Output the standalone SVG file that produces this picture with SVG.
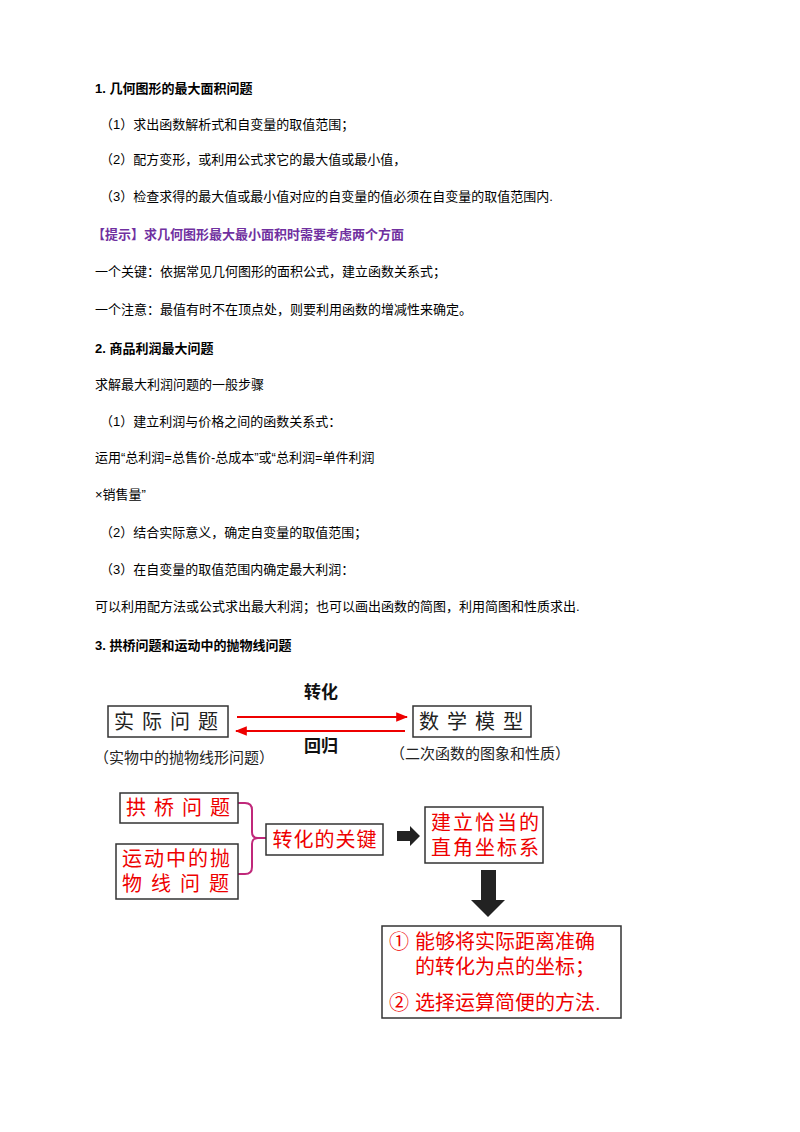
<svg xmlns="http://www.w3.org/2000/svg" width="800" height="1132" viewBox="0 0 800 1132">
<style>
text{font-family:"Liberation Sans","Noto Sans CJK SC",sans-serif;}
.t{font-size:13px;fill:#000}
.h{font-size:13px;font-weight:bold;fill:#000}
.p{font-size:13px;font-weight:bold;fill:#7030a0}
.bx{fill:#fff;stroke:#333;stroke-width:1.5}
.k{font-size:20px;fill:#222}
.r{font-size:20px;fill:#e00}
.c{font-size:15px;fill:#222}
</style>
<defs>
<marker id="ar" viewBox="0 0 10 10" refX="9" refY="5" markerWidth="6" markerHeight="6" orient="auto"><path d="M0,1 L10,5 L0,9z" fill="#e00"/></marker>
</defs>
<rect width="800" height="1132" fill="#fff"/>
<text class="h" x="95" y="93">1.  几何图形的最大面积问题</text>
<text class="t" x="100" y="129">（1）求出函数解析式和自变量的取值范围；</text>
<text class="t" x="100" y="164">（2）配方变形，或利用公式求它的最大值或最小值，</text>
<text class="t" x="100" y="201">（3）检查求得的最大值或最小值对应的自变量的值必须在自变量的取值范围内.</text>
<text class="p" x="92" y="239">【提示】求几何图形最大最小面积时需要考虑两个方面</text>
<text class="t" x="95" y="276">一个关键：依据常见几何图形的面积公式，建立函数关系式；</text>
<text class="t" x="95" y="314">一个注意：最值有时不在顶点处，则要利用函数的增减性来确定。</text>
<text class="h" x="95" y="353">2.  商品利润最大问题</text>
<text class="t" x="95" y="389">求解最大利润问题的一般步骤</text>
<text class="t" x="100" y="426">（1）建立利润与价格之间的函数关系式：</text>
<text class="t" x="95" y="462">运用“总利润=总售价-总成本”或“总利润=单件利润</text>
<text class="t" x="95" y="499">×销售量”</text>
<text class="t" x="100" y="537">（2）结合实际意义，确定自变量的取值范围；</text>
<text class="t" x="100" y="574">（3）在自变量的取值范围内确定最大利润：</text>
<text class="t" x="95" y="611">可以利用配方法或公式求出最大利润；也可以画出函数的简图，利用简图和性质求出.</text>
<text class="h" x="95" y="650">3.  拱桥问题和运动中的抛物线问题</text>

<g id="connectors">
<line x1="237" y1="717" x2="407" y2="717" stroke="#e00" stroke-width="2" marker-end="url(#ar)"/>
<line x1="405" y1="731" x2="236" y2="731" stroke="#e00" stroke-width="2" marker-end="url(#ar)"/>
<path d="M238,803 H245 Q252,803 252,810 V832 Q252,838 258,838 H266 M258,838 Q252,838 252,844 V867 Q252,874 245,874 H238" fill="none" stroke="#c0287a" stroke-width="2"/>
<path d="M397,831 H410 V826 L420,836 L410,846 V841 H397z" fill="#222"/>
<path d="M481,870 H496 V900 H505 L488,917 L471,900 H481z" fill="#222"/>
</g>
<text x="321" y="698" font-size="17" font-weight="bold" text-anchor="middle" fill="#111">转化</text>
<text x="321" y="752" font-size="17" font-weight="bold" text-anchor="middle" fill="#111">回归</text>

<g id="n1"><rect class="bx" x="108" y="706" width="120" height="31"/><text class="k" x="170" y="729" text-anchor="middle" letter-spacing="8">实际问题</text></g>
<g id="n2"><rect class="bx" x="413" y="706" width="118" height="31"/><text class="k" x="475" y="729" text-anchor="middle" letter-spacing="8">数学模型</text></g>
<text class="c" x="94" y="763">（实物中的抛物线形问题）</text>
<text class="c" x="390" y="759">（二次函数的图象和性质）</text>

<g id="n3"><rect class="bx" x="120" y="793" width="118" height="30"/><text class="r" x="182" y="815" text-anchor="middle" letter-spacing="8">拱桥问题</text></g>
<g id="n4"><rect class="bx" x="116" y="844" width="122" height="55"/><text class="r" x="122" y="866" letter-spacing="2">运动中的抛</text><text class="r" x="122" y="891" letter-spacing="9">物线问题</text></g>
<g id="n5"><rect class="bx" x="266" y="824" width="117" height="31"/><text class="r" x="325" y="847" text-anchor="middle" letter-spacing="1">转化的关键</text></g>
<g id="n6"><rect class="bx" x="425" y="807" width="118" height="56"/><text class="r" x="431" y="830" letter-spacing="2">建立恰当的</text><text class="r" x="431" y="855" letter-spacing="2">直角坐标系</text></g>
<g id="n7"><rect class="bx" x="382" y="926" width="239" height="92"/>
<text class="r" x="389" y="949">①</text><text class="r" x="415" y="949">能够将实际距离准确</text>
<text class="r" x="415" y="974">的转化为点的坐标；</text>
<text class="r" x="389" y="1010">②</text><text class="r" x="415" y="1010">选择运算简便的方法.</text></g>
</svg>
